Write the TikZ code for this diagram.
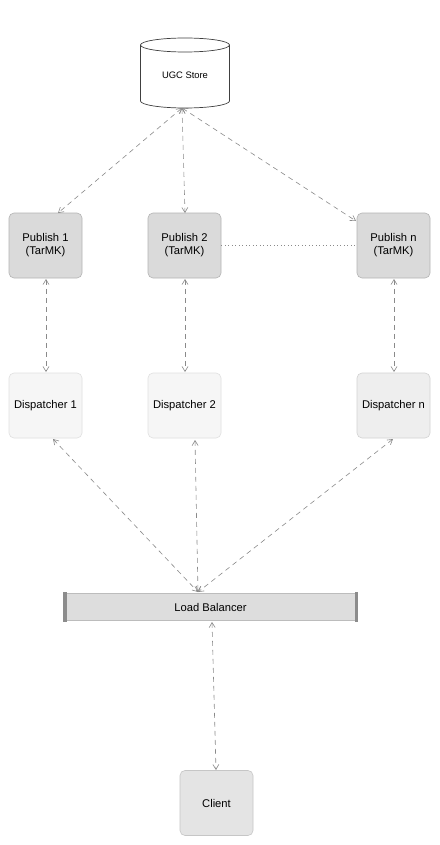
\documentclass[tikz,border=0pt]{standalone}
\usepackage{fontspec}
\setmainfont{Liberation Sans}
\usetikzlibrary{arrows.meta,calc}
\definecolor{arrowgray}{HTML}{8A8A8A}
\definecolor{pubfill}{HTML}{DADADA}
\definecolor{pubdraw}{HTML}{B4B4B4}
\definecolor{dispfill}{HTML}{F6F6F6}
\definecolor{dispdraw}{HTML}{E0E0E0}
\definecolor{dispnfill}{HTML}{EEEEEE}
\definecolor{dispndraw}{HTML}{D2D2D2}
\definecolor{clientfill}{HTML}{E4E4E4}
\definecolor{clientdraw}{HTML}{C6C6C6}
\definecolor{lbfill}{HTML}{DDDDDD}
\definecolor{lbside}{HTML}{8C8C8C}
\begin{document}
\begin{tikzpicture}[x=1pt,y=-1pt,
  boxbase/.style={rounded corners=5pt, minimum width=73pt, minimum height=65pt, inner sep=0pt, align=center, font=\fontsize{11.2}{13}\selectfont, line width=0.6pt},
  pubbox/.style={boxbase, fill=pubfill, draw=pubdraw},
  dispbox/.style={boxbase, fill=dispfill, draw=dispdraw},
  dispnbox/.style={boxbase, fill=dispnfill, draw=dispndraw},
  clientbox/.style={boxbase, fill=clientfill, draw=clientdraw},
  link/.style={draw=arrowgray, line width=0.6pt, dash pattern=on 5pt off 4pt, {Straight Barb[length=5pt,width=6pt]}-{Straight Barb[length=5pt,width=6pt]}},
  dotlink/.style={draw=arrowgray, line width=0.8pt, dash pattern=on 1pt off 2.5pt}
]
\useasboundingbox (0,0) rectangle (439,845);
\fill[white] (0,0) rectangle (439,845);

% UGC store cylinder
\filldraw[fill=white, draw=black!75, line width=0.7pt]
  (140.5,45) -- (140.5,101) arc[start angle=180, end angle=0, x radius=44.5, y radius=7]
  -- (229.5,45) arc[start angle=0, end angle=-180, x radius=44.5, y radius=7] -- cycle;
\draw[draw=black!75, line width=0.7pt] (140.5,45) arc[start angle=180, end angle=0, x radius=44.5, y radius=7];
\node[font=\fontsize{9.4}{11}\selectfont, minimum width=89pt, minimum height=70pt, inner sep=0pt] (ugc) at (185,75) {UGC Store};

% Publish nodes
\node[pubbox] (p1) at (45.5,245.5) {Publish 1\\(TarMK)};
\node[pubbox] (p2) at (184.5,245.5) {Publish 2\\(TarMK)};
\node[pubbox] (pn) at (393.5,245.5) {Publish n\\(TarMK)};

% Dispatcher nodes
\node[dispbox] (d1) at (45.5,405.5) {Dispatcher 1};
\node[dispbox] (d2) at (184.5,405.5) {Dispatcher 2};
\node[dispnbox] (dn) at (393.5,405.5) {Dispatcher n};

% Load balancer
\fill[lbfill] (66,593) rectangle (355,620.5);
\draw[lbfill!85!black, line width=0.4pt] (66,593) -- (355,593);
\draw[lbfill!85!black, line width=0.4pt] (66,620.5) -- (355,620.5);
\fill[lbside] (63,592) rectangle (66.5,621.5);
\fill[lbside] (354.5,592) rectangle (358,621.5);
\node[font=\fontsize{11.2}{13}\selectfont, minimum width=295pt, minimum height=29pt, inner sep=0pt] (lb) at (210.5,607) {Load Balancer};

% Client
\node[clientbox] (cl) at (216.5,803) {Client};

% anchor coordinates
\coordinate (ugcb) at (182,108);
\coordinate (p1t) at (58,213);
\coordinate (p2t) at (185,213);
\coordinate (pnt) at (356,221);
\coordinate (p1b) at (46,279);
\coordinate (p2b) at (185,279);
\coordinate (pnb) at (394,279);
\coordinate (d1t) at (46,372);
\coordinate (d2t) at (185,372);
\coordinate (dnt) at (394,372);
\coordinate (d1b) at (53,439);
\coordinate (d2b) at (195,440);
\coordinate (dnb) at (393,439);
\coordinate (lbt) at (198,592);
\coordinate (lbb) at (212,622);
\coordinate (clt) at (216,770);

% connectors
\draw[link] (ugcb) -- (p1t);
\draw[link] (ugcb) -- (p2t);
\draw[link] (ugcb) -- (pnt);
\draw[link] (p1b) -- (d1t);
\draw[link] (p2b) -- (d2t);
\draw[link] (pnb) -- (dnt);
\draw[link] (d1b) -- (lbt);
\draw[link] (d2b) -- (lbt);
\draw[link] (dnb) -- (lbt);
\draw[link] (lbb) -- (clt);
\draw[dotlink] (p2.east) -- (pn.west);
\end{tikzpicture}
\end{document}
